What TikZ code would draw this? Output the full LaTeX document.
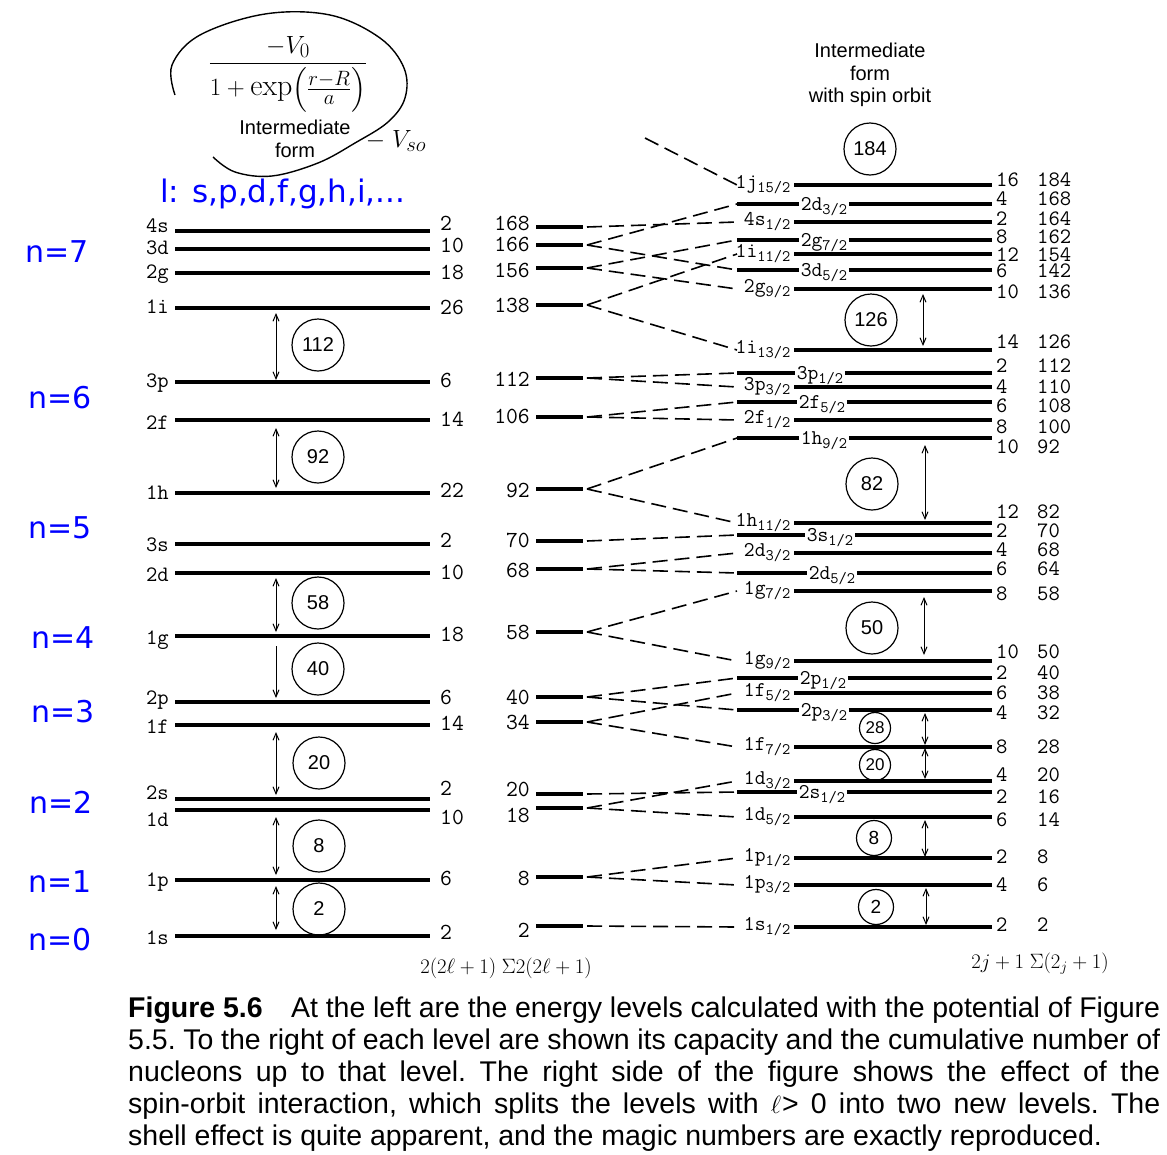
\documentclass[tikz,border=0pt]{standalone}
\usepackage{fontspec}
\usepackage{amsmath}
\usetikzlibrary{arrows.meta}
\newfontfamily\capfont{Liberation Sans}
\newfontfamily\bluefont{DejaVu Sans}
\newcommand\fs[1]{\fontsize{#1}{#1}\selectfont}
% level label with j subscript, e.g. 1d_{3/2}
\newcommand\slv[3]{#1\raisebox{-0.45ex}{\fs{16}#2/#3}}

\tikzset{
  lvl/.style={line width=3.2pt},
  llvl/.style={line width=3.2pt},
  conn/.style={line width=1.6pt, dash pattern=on 15pt off 7pt},
  num/.style={font=\ttfamily\fs{23}, inner sep=1pt},
  rnum/.style={font=\ttfamily\fs{22}, inner sep=0pt},
  lab/.style={font=\ttfamily\fs{22}, inner sep=1pt},
  slab/.style={font=\ttfamily\fs{21}, inner sep=1.5pt},
  magic/.style={draw, circle, line width=1.2pt, minimum size=52pt, inner sep=0pt, font=\capfont\fs{20}},
  smagic/.style={magic, minimum size=31pt, font=\capfont\fs{17}},
  mmagic/.style={magic, minimum size=35pt, font=\capfont\fs{19}},
  gap/.style={{Straight Barb[length=7pt,width=6pt]}-{Straight Barb[length=7pt,width=6pt]}, line width=1pt},
  gapdown/.style={-{Straight Barb[length=7pt,width=6pt]}, line width=1pt},
  nlab/.style={font=\bluefont\fs{30}, text=blue, inner sep=0pt},
}

\begin{document}
\begin{tikzpicture}[x=1pt,y=-1pt]
\fill[white] (0,0) rectangle (1167,1154);
\useasboundingbox (0,0) rectangle (1167,1154);

% ---------- handwritten potential ----------
\draw[line width=1.4pt] plot[smooth, tension=0.6] coordinates {(175,95) (172,65) (200,35) (265,14) (330,15) (380,38) (404,68) (405,98) (388,122) (355,143) (318,163) (272,176) (235,172) (213,157)};
\node[font=\fs{30}] (pot) at (288,74) {$\displaystyle\frac{-V_0}{1+\exp\!\left(\frac{r-R}{a}\right)}$};
\node[font=\fs{30}] (vso) at (396,141) {$-\;V_{so}$};
\node[font=\capfont\fontsize{20}{23}\selectfont, align=center] (iform) at (295,139) {Intermediate\\form};
\node[nlab, font=\bluefont\fs{31}, anchor=west] (lnames) at (160,194) {l: s,p,d,f,g,h,i,...};

% ---------- oscillator quantum numbers ----------
\node[nlab] (n7) at (57,252) {n=7};
\node[nlab] (n6) at (60,398) {n=6};
\node[nlab] (n5) at (60,528) {n=5};
\node[nlab] (n4) at (63,638) {n=4};
\node[nlab] (n3) at (63,712) {n=3};
\node[nlab] (n2) at (61,802) {n=2};
\node[nlab] (n1) at (60,882) {n=1};
\node[nlab] (n0) at (60,940) {n=0};

% ---------- left column: levels without spin-orbit ----------
\foreach \k/\y/\ly/\ny/\c in {4s/231/226/223/2, 3d/249/248/245/10, 2g/273/274/272/18, 1i/308/307/307/26, 3p/382/383/380/6, 2f/420/423/419/14, 1h/493/493/490/22, 3s/544/545/540/2, 2d/573/575/572/10, 1g/636/640/634/18, 2p/702/700/697/6, 1f/725/727/723/14, 2s/799/793/788/2, 1d/810/820/817/10, 1p/880/882/878/6, 1s/936/938/932/2}{
  \node[lab, anchor=east] (L\k) at (170,\ly) {\k};
  \draw[llvl] (175,\y) -- (430,\y);
  \node[num, anchor=west] (C\k) at (439,\ny) {\c};
}

\node[magic] (a112) at (318,345) {112};
\node[magic] (a92) at (318,457) {92};
\node[magic] (a58) at (318,603) {58};
\node[magic] (a40) at (318,669) {40};
\node[magic] (a20) at (319,763) {20};
\node[magic] (a8) at (319,846) {8};
\node[magic] (a2) at (319,909) {2};
\draw[gap] (276,313) -- (276,380);
\draw[gap] (276,428) -- (276,488);
\draw[gap] (276,578) -- (276,632);
\draw[gapdown] (276,646) -- (276,698);
\draw[gap] (276,732) -- (276,795);
\draw[gap] (276,817) -- (276,875);
\draw[gap] (276,886) -- (276,930);

% ---------- middle column: cumulative totals ----------
\foreach \k/\y/\ty/\t in {4s/227/223/168, 3d/245/244/166, 2g/268/270/156, 1i/305/305/138, 3p/378/379/112, 2f/417/416/106, 1h/489/490/92, 3s/541/540/70, 2d/569/570/68, 1g/632/632/58, 2p/697/697/40, 1f/722/722/34, 2s/794/789/20, 1d/808/815/18, 1p/877/878/8, 1s/926/930/2}{
  \node[num, anchor=east] (T\k) at (531,\ty) {\t};
  \draw[lvl] (536,\y) -- (583,\y);
  \coordinate (m\k) at (587,\y);
}

% ---------- right column: levels with spin-orbit ----------
\foreach \k/\y/\p/\m/\sn/\sd/\c/\t/\ny/\lx in {
 j15/185/A/1j/15/2/16/184/180/0,
 d3a/204/B/2d/3/2/4/168/199/824,
 s4/222/A/4s/1/2/2/164/219/0,
 g7b/240/B/2g/7/2/8/162/237/824,
 i11/254/A/1i/11/2/12/154/255/0,
 d5c/270/B/3d/5/2/6/142/271/824,
 g9b/289/A/2g/9/2/10/136/292/0,
 i13/350/A/1i/13/2/14/126/342/0,
 p1c/373/B/3p/1/2/2/112/366/820,
 p3c/387/A/3p/3/2/4/110/387/0,
 f5b/402/B/2f/5/2/6/108/406/822,
 f7b/420/A/2f/1/2/8/100/427/0,
 h9/438/B/1h/9/2/10/92/447/824,
 h11/523/A/1h/11/2/12/82/512/0,
 s3/535/B/3s/1/2/2/70/531/830,
 d3b/553/A/2d/3/2/4/68/550/0,
 d5b/573/B/2d/5/2/6/64/569/832,
 g7/591/A/1g/7/2/8/58/594/0,
 g9/661/A/1g/9/2/10/50/652/0,
 p1b/678/B/2p/1/2/2/40/673/823,
 f5/693/A/1f/5/2/6/38/693/0,
 p3b/710/B/2p/3/2/4/32/713/824,
 f7/747/A/1f/7/2/8/28/747/0,
 d3/781/A/1d/3/2/4/20/775/0,
 s2/792/B/2s/1/2/2/16/797/822,
 d5/817/A/1d/5/2/6/14/820/0,
 p1/858/A/1p/1/2/2/8/857/0,
 p3/885/A/1p/3/2/4/6/885/0,
 s1/927/A/1s/1/2/2/2/925/0}{
  \coordinate (r\k) at (737,\y);
  \if\p A
    \node[slab, anchor=east] (S\k) at (792,\y) {\slv{\m}{\sn}{\sd}};
    \draw[lvl] (794,\y) -- (992,\y);
  \else
    \node[slab] (S\k) at ({\lx},{\y+3}) {\slv{\m}{\sn}{\sd}};
    \draw[lvl] (r\k) -- (S\k.west |- r\k);
    \draw[lvl] (S\k.east |- r\k) -- (992,\y);
  \fi
  \node[rnum, anchor=west] (K\k) at (996,\ny) {\c};
  \node[rnum, anchor=west] (N\k) at (1037,\ny) {\t};
}

% splitting of each level
\foreach \a/\b in {4s/s4, 3d/d3a, 3d/d5c, 2g/g7b, 2g/g9b, 1i/i11, 1i/i13, 3p/p1c, 3p/p3c, 2f/f5b, 2f/f7b, 1h/h9, 1h/h11, 3s/s3, 2d/d3b, 2d/d5b, 1g/g7, 1g/g9, 2p/p1b, 2p/p3b, 1f/f5, 1f/f7, 2s/s2, 1d/d3, 1d/d5, 1p/p1, 1p/p3, 1s/s1}
  \draw[conn] (m\a) -- (r\b);
\coordinate (upper) at (645,138);
\draw[conn] (upper) -- (rj15);

\node[font=\capfont\fontsize{20}{22.5}\selectfont, align=center] (iform2) at (870,75) {Intermediate\\form\\with spin orbit};

\node[magic] (b184) at (870,149) {184};
\node[magic] (b126) at (871,320) {126};
\node[magic] (b82) at (872,484) {82};
\node[magic] (b50) at (872,628) {50};
\node[smagic] (b28) at (875,728) {28};
\node[smagic] (b20) at (875,765) {20};
\node[mmagic] (b8) at (874,838) {8};
\node[mmagic] (b2) at (876,907) {2};
\draw[gap] (923,294) -- (923,346);
\draw[gap] (925,445) -- (925,520);
\draw[gap] (924,597) -- (924,655);
\draw[gap] (925,713) -- (925,745);
\draw[gap] (925,748) -- (925,779);
\draw[gap] (925,820) -- (925,857);
\draw[gap] (926,888) -- (926,925);

% ---------- column headings at the foot ----------
\node[font=\fs{21}] (sumL) at (506,968) {$2(2\ell + 1)\;\Sigma 2(2\ell + 1)$};
\node[font=\fs{21}] (sumR) at (1040,964) {$2j + 1\;\Sigma(2_j + 1)$};

% ---------- caption ----------
\node[anchor=north west, inner sep=0pt, text width=1032pt, align=justify, font=\capfont\fontsize{28.5}{31.8}\selectfont] (cap) at (128,997) {\frenchspacing%
\textbf{Figure 5.6}\quad At the left are the energy levels calculated with the potential of Figure\linebreak
5.5. To the right of each level are shown its capacity and the cumulative number of\linebreak
nucleons up to that level. The right side of the figure shows the effect of the\linebreak
spin-orbit interaction, which splits the levels with $\ell$\kern1pt> 0 into two new levels. The\linebreak
shell effect is quite apparent, and the magic numbers are exactly reproduced.};
\end{tikzpicture}
\end{document}
